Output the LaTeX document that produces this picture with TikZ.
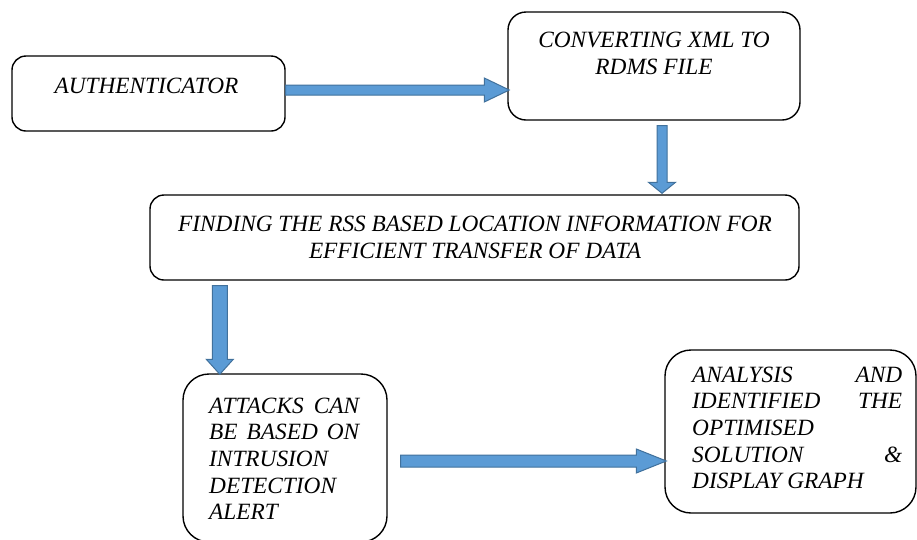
\documentclass[tikz,border=0pt]{standalone}
\usepackage{fontspec}
\setmainfont{Liberation Serif}
\usetikzlibrary{calc}
\definecolor{afill}{HTML}{5B9BD5}
\definecolor{aedge}{HTML}{41719C}
\tikzset{
  box/.style={draw=black, line width=1.4pt, rounded corners=#1, inner sep=0pt},
  ln/.style={font=\fontsize{23.3}{26.7}\selectfont\itshape, inner sep=0pt, anchor=base},
  jln/.style={ln, anchor=base west},
  blk/.style={fill=afill, draw=aedge, line width=1pt},
}
\newcommand\jline[2]{\hbox to #1{#2}}
% horizontal block arrow: start, end, half shaft, half head, head length
\newcommand\harrow[5]{%
  \path[blk] let \p1=(#1), \p2=(#2) in
    (\x1,\y1+#3) -- (\x2-#5,\y1+#3) -- (\x2-#5,\y1+#4) -- (\x2,\y1)
    -- (\x2-#5,\y1-#4) -- (\x2-#5,\y1-#3) -- (\x1,\y1-#3) -- cycle;}
% downward block arrow
\newcommand\varrow[5]{%
  \path[blk] let \p1=(#1), \p2=(#2) in
    (\x1-#3,\y1) -- (\x1-#3,\y2+#5) -- (\x1-#4,\y2+#5) -- (\x1,\y2)
    -- (\x1+#4,\y2+#5) -- (\x1+#3,\y2+#5) -- (\x1+#3,\y1) -- cycle;}
\begin{document}
\begin{tikzpicture}[x=1pt,y=-1pt]
\useasboundingbox (0,0) rectangle (917,539);
\clip (0,0) rectangle (917,539);
\fill[white] (0,0) rectangle (917,539);

% boxes
\node[box=14pt, minimum width=273pt, minimum height=75pt] (auth) at (148.5,93.5) {};
\node[box=18pt, minimum width=292pt, minimum height=108pt] (conv) at (654,66) {};
\node[box=14pt, minimum width=649pt, minimum height=85pt] (find) at (474.5,237.5) {};
\node[box=26pt, minimum width=204pt, minimum height=168pt] (att) at (285,458) {};
\node[box=26pt, minimum width=251pt, minimum height=163pt] (ana) at (790.5,431.5) {};

% texts
\node[ln] (t1) at (146.5,93) {AUTHENTICATOR};

\node[ln] (t2a) at (654,47) {CONVERTING XML TO};
\node[ln] (t2b) at (654,74) {RDMS FILE};

\node[ln] (t3a) at (475,231.5) {FINDING THE RSS BASED LOCATION INFORMATION FOR};
\node[ln] (t3b) at (475,258.5) {EFFICIENT TRANSFER OF DATA};

\node[jln] (t4a) at (209,413) {\jline{150pt}{ATTACKS\hfill CAN}};
\node[jln] (t4b) at (209,439.7) {\jline{150pt}{BE\hfill BASED\hfill ON}};
\node[jln] (t4c) at (209,466.4) {INTRUSION};
\node[jln] (t4d) at (209,493.1) {DETECTION};
\node[jln] (t4e) at (209,519.8) {ALERT};

\node[jln] (t5a) at (692,382) {\jline{210pt}{ANALYSIS\hfill AND}};
\node[jln] (t5b) at (692,408.7) {\jline{210pt}{IDENTIFIED\hfill THE}};
\node[jln] (t5c) at (692,435.4) {OPTIMISED};
\node[jln] (t5d) at (692,462.1) {\jline{210pt}{SOLUTION\hfill \&}};
\node[jln] (t5e) at (692,488.8) {DISPLAY GRAPH};

% connectors
\coordinate (a1s) at ($(auth.east)+(0,-3.5)$);
\coordinate (a1e) at ($(a1s -| conv.west)+(2,0)$);
\harrow{a1s}{a1e}{5pt}{12pt}{25pt}

\coordinate (a2s) at ($(conv.south)+(8,5)$);
\coordinate (a2e) at ($(a2s |- find.north)+(0,-1)$);
\varrow{a2s}{a2e}{5pt}{13.5pt}{11pt}

\coordinate (a3s) at ($(find.south west)+(70.5,5)$);
\coordinate (a3e) at ($(a3s |- att.north)+(0,1)$);
\varrow{a3s}{a3e}{7.5pt}{13.5pt}{15pt}

\coordinate (a4s) at ($(att.east)+(13,3)$);
\coordinate (a4e) at ($(a4s -| ana.west)+(2,0)$);
\harrow{a4s}{a4e}{6pt}{12pt}{30pt}
\end{tikzpicture}
\end{document}
